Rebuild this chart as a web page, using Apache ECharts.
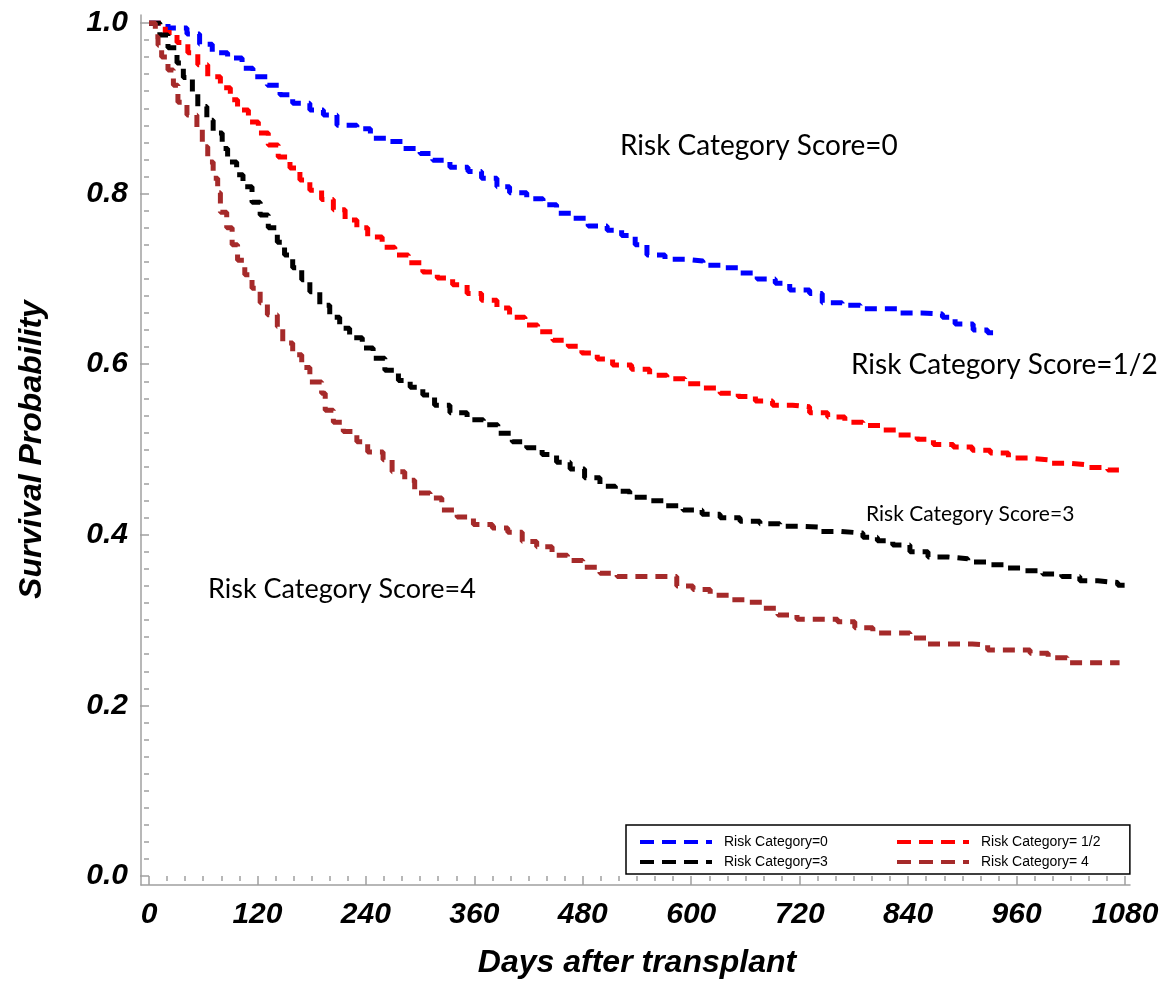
<!DOCTYPE html>
<html>
<head>
<meta charset="utf-8">
<script src="https://cdn.jsdelivr.net/npm/echarts@6/dist/echarts.min.js"></script>
<style>
html,body{margin:0;padding:0;background:#fff;}
#chart{width:1174px;height:1001px;}
</style>
</head>
<body>
<div id="chart"></div>
<script>
// ---- data (days after transplant, survival probability) ----
const seriesNames = ['Risk Category=0', 'Risk Category= 1/2', 'Risk Category=3', 'Risk Category= 4'];
const seriesColors = ['#0000FF', '#FF0000', '#000000', '#A52A2A'];

const days0 = [0,21,42,56,70,87,103,115,131,145,159,178,193,208,230,245,263,281,300,314,333,353,368,385,399,418,436,451,469,486,507,523,538,551,571,595,613,635,654,673,693,709,731,745,767,787,831,855,878,892,912,928,934];
const surv0 = [1.000,0.994,0.987,0.975,0.965,0.959,0.947,0.937,0.927,0.916,0.906,0.898,0.892,0.880,0.876,0.865,0.861,0.853,0.847,0.839,0.831,0.826,0.818,0.808,0.801,0.794,0.787,0.777,0.771,0.762,0.757,0.751,0.740,0.728,0.723,0.721,0.716,0.713,0.707,0.700,0.695,0.687,0.683,0.672,0.669,0.665,0.660,0.659,0.655,0.647,0.640,0.637,0.637];

const days12 = [0,18,31,43,54,65,79,90,98,110,121,132,143,156,167,178,191,204,217,230,242,258,272,287,303,319,336,352,368,385,399,416,430,447,464,479,496,513,534,554,573,593,612,632,652,671,690,712,731,751,770,790,811,829,850,868,890,911,931,951,973,995,1016,1038,1061,1078];
const surv12 = [1.000,0.989,0.977,0.965,0.951,0.937,0.924,0.910,0.898,0.884,0.871,0.857,0.843,0.830,0.816,0.804,0.793,0.781,0.769,0.760,0.749,0.737,0.728,0.719,0.708,0.701,0.693,0.683,0.675,0.666,0.655,0.646,0.638,0.628,0.621,0.613,0.606,0.599,0.594,0.587,0.583,0.577,0.572,0.566,0.562,0.557,0.552,0.550,0.543,0.538,0.532,0.528,0.523,0.517,0.512,0.506,0.503,0.499,0.496,0.490,0.488,0.484,0.482,0.479,0.476,0.475];

const days3 = [0,12,21,31,38,48,54,64,71,81,87,97,104,114,123,132,142,150,159,169,178,189,200,211,222,236,248,261,276,289,303,316,333,352,370,386,402,418,435,451,466,482,499,516,532,552,571,591,612,632,654,676,698,720,743,765,790,806,823,842,862,884,906,927,947,969,989,1010,1030,1050,1072,1080];
const surv3 = [1.000,0.986,0.971,0.953,0.936,0.919,0.902,0.886,0.871,0.853,0.837,0.822,0.808,0.790,0.775,0.760,0.743,0.728,0.713,0.699,0.685,0.669,0.655,0.642,0.631,0.619,0.607,0.593,0.581,0.573,0.564,0.552,0.543,0.535,0.529,0.519,0.509,0.502,0.494,0.485,0.477,0.467,0.457,0.451,0.444,0.440,0.434,0.429,0.424,0.420,0.416,0.413,0.410,0.409,0.404,0.402,0.397,0.393,0.388,0.380,0.374,0.372,0.368,0.365,0.361,0.358,0.354,0.351,0.346,0.344,0.341,0.341];

const days4 = [0,7,10,14,21,27,32,42,53,59,65,71,76,79,86,92,98,106,114,123,131,142,148,159,169,178,191,195,204,215,230,242,259,269,283,294,311,324,341,359,380,397,413,429,446,463,480,499,518,565,584,602,621,643,660,679,696,717,762,781,801,828,842,862,911,928,975,995,1016,1074];
const surv4 = [1.000,0.984,0.974,0.960,0.945,0.927,0.907,0.892,0.875,0.855,0.837,0.818,0.801,0.778,0.760,0.740,0.722,0.705,0.689,0.672,0.658,0.644,0.625,0.611,0.596,0.579,0.566,0.546,0.532,0.521,0.509,0.497,0.488,0.474,0.464,0.449,0.443,0.429,0.421,0.412,0.408,0.403,0.392,0.386,0.376,0.370,0.362,0.355,0.351,0.351,0.340,0.336,0.329,0.324,0.321,0.314,0.306,0.301,0.298,0.291,0.285,0.285,0.279,0.272,0.271,0.265,0.261,0.256,0.250,0.250];

const xTicks = [0, 1080, 120];      // min, max, interval
const yTicks = [0, 1, 0.2];         // min, max, interval
const annotations = ['Risk Category Score=0', 'Risk Category Score=1/2', 'Risk Category Score=3', 'Risk Category Score=4'];

const allDays = [days0, days12, days3, days4];
const allSurv = [surv0, surv12, surv3, surv4];

const axisGray = '#A0A0A0';
const tickFont = { fontFamily: 'Liberation Sans', fontWeight: 'bold', fontStyle: 'italic', fontSize: 30, color: '#000' };

const chart = echarts.init(document.getElementById('chart'), null, { renderer: 'canvas' });

const series = seriesNames.map((name, i) => ({
  name: name,
  type: 'line',
  xAxisIndex: 0,
  yAxisIndex: 0,
  step: 'end',
  symbol: 'none',
  showSymbol: false,
  data: allDays[i].map((d, k) => [d, allSurv[i][k]]),
  lineStyle: { color: seriesColors[i], width: 5, type: [12, 8], cap: 'butt' },
  itemStyle: { color: seriesColors[i] },
  z: 3
}));

const legendCommon = {
  top: 825, orient: 'vertical',
  itemWidth: 72, itemHeight: 14, itemGap: 6,
  itemStyle: { opacity: 0 },
  lineStyle: { width: 4, type: [14, 8], cap: 'butt' },
  textStyle: { fontFamily: 'Liberation Sans', fontSize: 14, color: '#000', padding: [0, 0, 0, 7] }
};

const option = {
  animation: false,
  backgroundColor: '#fff',
  grid: [
    { left: 149, right: 49, top: 23, bottom: 125 },
    { left: 141, right: 44, top: 15, bottom: 116 }
  ],
  xAxis: [
    {
      gridIndex: 0, type: 'value', min: xTicks[0], max: xTicks[1], interval: xTicks[2],
      offset: 9,
      axisLine: { show: false },
      axisTick: { show: true, length: 9, lineStyle: { color: axisGray, width: 1.5 } },
      minorTick: { show: true, splitNumber: 6, length: 5, lineStyle: { color: axisGray, width: 1.5 } },
      splitLine: { show: false },
      axisLabel: Object.assign({ margin: 15, formatter: v => String(v) }, tickFont),
      name: 'Days after transplant',
      nameLocation: 'middle',
      nameGap: 62,
      nameTextStyle: { fontFamily: 'Liberation Sans', fontWeight: 'bold', fontStyle: 'italic', fontSize: 32, color: '#000' }
    },
    {
      gridIndex: 1, type: 'value', min: 0, max: 1,
      axisLine: { show: true, lineStyle: { color: axisGray, width: 1.5 } },
      axisTick: { show: false }, axisLabel: { show: false }, splitLine: { show: false }
    }
  ],
  yAxis: [
    {
      gridIndex: 0, type: 'value', min: yTicks[0], max: yTicks[1], interval: yTicks[2],
      offset: 8,
      axisLine: { show: false },
      axisTick: { show: true, length: 9, lineStyle: { color: axisGray, width: 1.5 } },
      minorTick: { show: true, splitNumber: 10, length: 5, lineStyle: { color: axisGray, width: 1.5 } },
      splitLine: { show: false },
      axisLabel: Object.assign({ margin: 13, formatter: v => v.toFixed(1) }, tickFont),
      name: 'Survival Probability',
      nameLocation: 'middle',
      nameGap: 93,
      nameTextStyle: { fontFamily: 'Liberation Sans', fontWeight: 'bold', fontStyle: 'italic', fontSize: 32, color: '#000' }
    },
    {
      gridIndex: 1, type: 'value', min: 0, max: 1,
      axisLine: { show: true, lineStyle: { color: axisGray, width: 1.5 } },
      axisTick: { show: false }, axisLabel: { show: false }, splitLine: { show: false }
    }
  ],
  legend: [
    Object.assign({}, legendCommon, {
      left: 626,
      padding: [10, 302, 5, 12],
      borderColor: '#000', borderWidth: 1.5, backgroundColor: '#fff',
      data: [seriesNames[0], seriesNames[2]],
      z: 4
    }),
    Object.assign({}, legendCommon, {
      left: 883,
      padding: [10, 12, 5, 12],
      data: [seriesNames[1], seriesNames[3]],
      z: 5
    })
  ],
  graphic: [
    { type: 'text', left: 620, top: 132, style: { text: annotations[0], font: '28px Lato', fill: '#000' } },
    { type: 'text', left: 851, top: 351, style: { text: annotations[1], font: '28px Lato', fill: '#000' } },
    { type: 'text', left: 866, top: 504, style: { text: annotations[2], font: '21px Lato', fill: '#000' } },
    { type: 'text', left: 208, top: 576, style: { text: annotations[3], font: '27px Lato', fill: '#000' } }
  ],
  series: series
};

chart.setOption(option);
</script>
</body>
</html>
